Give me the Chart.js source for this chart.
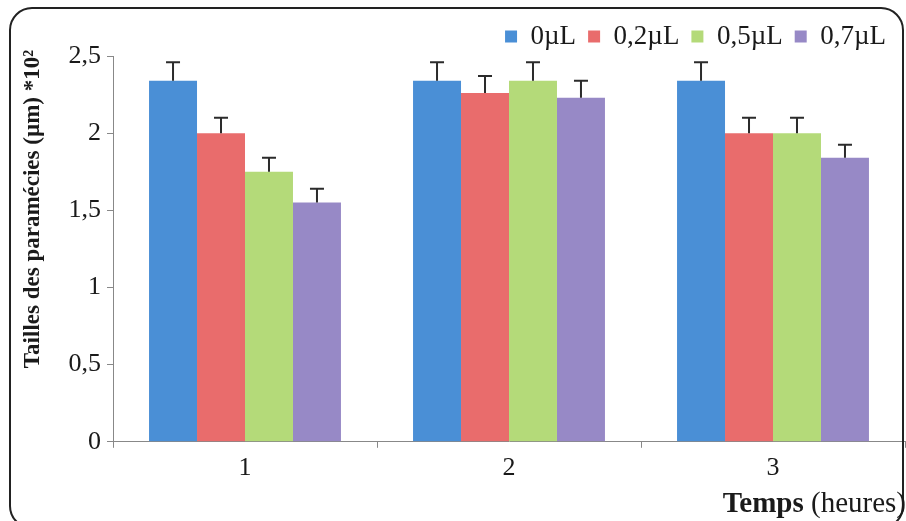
<!DOCTYPE html>
<html lang="fr">
<head>
<meta charset="UTF-8">
<title>Tailles des paramécies</title>
<style>
  html, body { margin: 0; padding: 0; background: #fff; }
  canvas { display: block; }
</style>
</head>
<body>
<canvas id="chart" width="906" height="521"></canvas>
<script src="https://cdn.jsdelivr.net/npm/chart.js"></script>
<script>
// data
const hours = ['1', '2', '3'];
const doses = ['0µL', '0,2µL', '0,5µL', '0,7µL'];
const size0 = [2.34, 2.34, 2.34];
const size02 = [2.0, 2.26, 2.0];
const size05 = [1.75, 2.34, 2.0];
const size07 = [1.55, 2.23, 1.84];
const err0 = [0.12, 0.12, 0.12];
const err02 = [0.1, 0.11, 0.1];
const err05 = [0.09, 0.12, 0.1];
const err07 = [0.09, 0.11, 0.085];
const yTicks = [0, 0.5, 1, 1.5, 2, 2.5];

const colors = ['#4a8fd6', '#e96c6c', '#b4da79', '#9789c6'];
const serif = '"Liberation Serif", "DejaVu Serif", serif';

// upper error bars, drawn from the bar top
const errorBars = {
  id: 'errorBars',
  afterDatasetsDraw(chart) {
    const ctx = chart.ctx;
    const y = chart.scales.y;
    ctx.save();
    ctx.strokeStyle = '#2b2b2b';
    ctx.lineWidth = 2;
    chart.data.datasets.forEach((ds, i) => {
      chart.getDatasetMeta(i).data.forEach((bar, j) => {
        const top = y.getPixelForValue(ds.data[j] + ds.errors[j]);
        ctx.beginPath();
        ctx.moveTo(bar.x, bar.y);
        ctx.lineTo(bar.x, top);
        ctx.moveTo(bar.x - 7, top);
        ctx.lineTo(bar.x + 7, top);
        ctx.stroke();
      });
    });
    ctx.restore();
  }
};

// nudge the legend a little lower and to the left
const legendNudge = {
  id: 'legendNudge',
  afterLayout(chart) {
    const lg = chart.legend;
    lg.top += 4; lg.bottom += 4;
    lg.left -= 7; lg.right -= 7;
  }
};

// frame, y title and x title with mixed weights
const decorations = {
  id: 'decorations',
  afterDraw(chart) {
    const ctx = chart.ctx;
    ctx.save();
    ctx.strokeStyle = '#222';
    ctx.lineWidth = 2;
    ctx.beginPath();
    ctx.roundRect(10, 8, 893, 520, 22);
    ctx.stroke();

    ctx.fillStyle = '#1a1a1a';
    ctx.textBaseline = 'middle';
    ctx.translate(33, 209);
    ctx.rotate(-Math.PI / 2);
    ctx.textAlign = 'center';
    ctx.font = 'bold 23px ' + serif;
    ctx.fillText('Tailles des paramécies (µm) *10²', 0, 0);
    ctx.restore();

    ctx.save();
    ctx.fillStyle = '#1a1a1a';
    ctx.textBaseline = 'alphabetic';
    ctx.textAlign = 'left';
    ctx.font = '29px ' + serif;
    const rest = ' (heures)';
    const wRest = ctx.measureText(rest).width;
    ctx.font = 'bold 29px ' + serif;
    const wBold = ctx.measureText('Temps').width;
    const x0 = 906 - wRest - wBold;
    ctx.fillText('Temps', x0, 512);
    ctx.font = '29px ' + serif;
    ctx.fillText(rest, x0 + wBold, 512);
    ctx.restore();
  }
};

const sizes = [size0, size02, size05, size07];
const errs = [err0, err02, err05, err07];

new Chart(document.getElementById('chart'), {
  type: 'bar',
  data: {
    labels: hours,
    datasets: doses.map((d, i) => ({
      label: d,
      data: sizes[i],
      errors: errs[i],
      backgroundColor: colors[i],
      borderWidth: 0
    }))
  },
  options: {
    responsive: false,
    animation: false,
    devicePixelRatio: 1,
    datasets: { bar: { categoryPercentage: 0.727, barPercentage: 1 } },
    layout: { padding: { top: 7, right: 1, bottom: 32, left: 0 } },
    plugins: {
      tooltip: { enabled: false },
      legend: {
        position: 'top',
        align: 'end',
        labels: {
          boxWidth: 12,
          boxHeight: 12,
          padding: 12,
          color: '#1a1a1a',
          font: { family: serif, size: 27 }
        }
      }
    },
    scales: {
      x: {
        grid: { offset: true, drawOnChartArea: false, drawTicks: true, tickLength: 6, color: '#888' },
        border: { color: '#888', width: 1 },
        ticks: { color: '#1a1a1a', font: { family: serif, size: 26 }, padding: 5 }
      },
      y: {
        min: 0,
        max: 2.5,
        afterFit(scale) { scale.width = 113; },
        afterBuildTicks(scale) { scale.ticks = yTicks.map(v => ({ value: v })); },
        grid: { drawOnChartArea: false, drawTicks: true, tickLength: 6, color: '#888' },
        border: { color: '#888', width: 1 },
        ticks: {
          color: '#1a1a1a',
          font: { family: serif, size: 26 },
          padding: 6,
          callback: v => String(v).replace('.', ',')
        }
      }
    }
  },
  plugins: [errorBars, legendNudge, decorations]
});
</script>
</body>
</html>
